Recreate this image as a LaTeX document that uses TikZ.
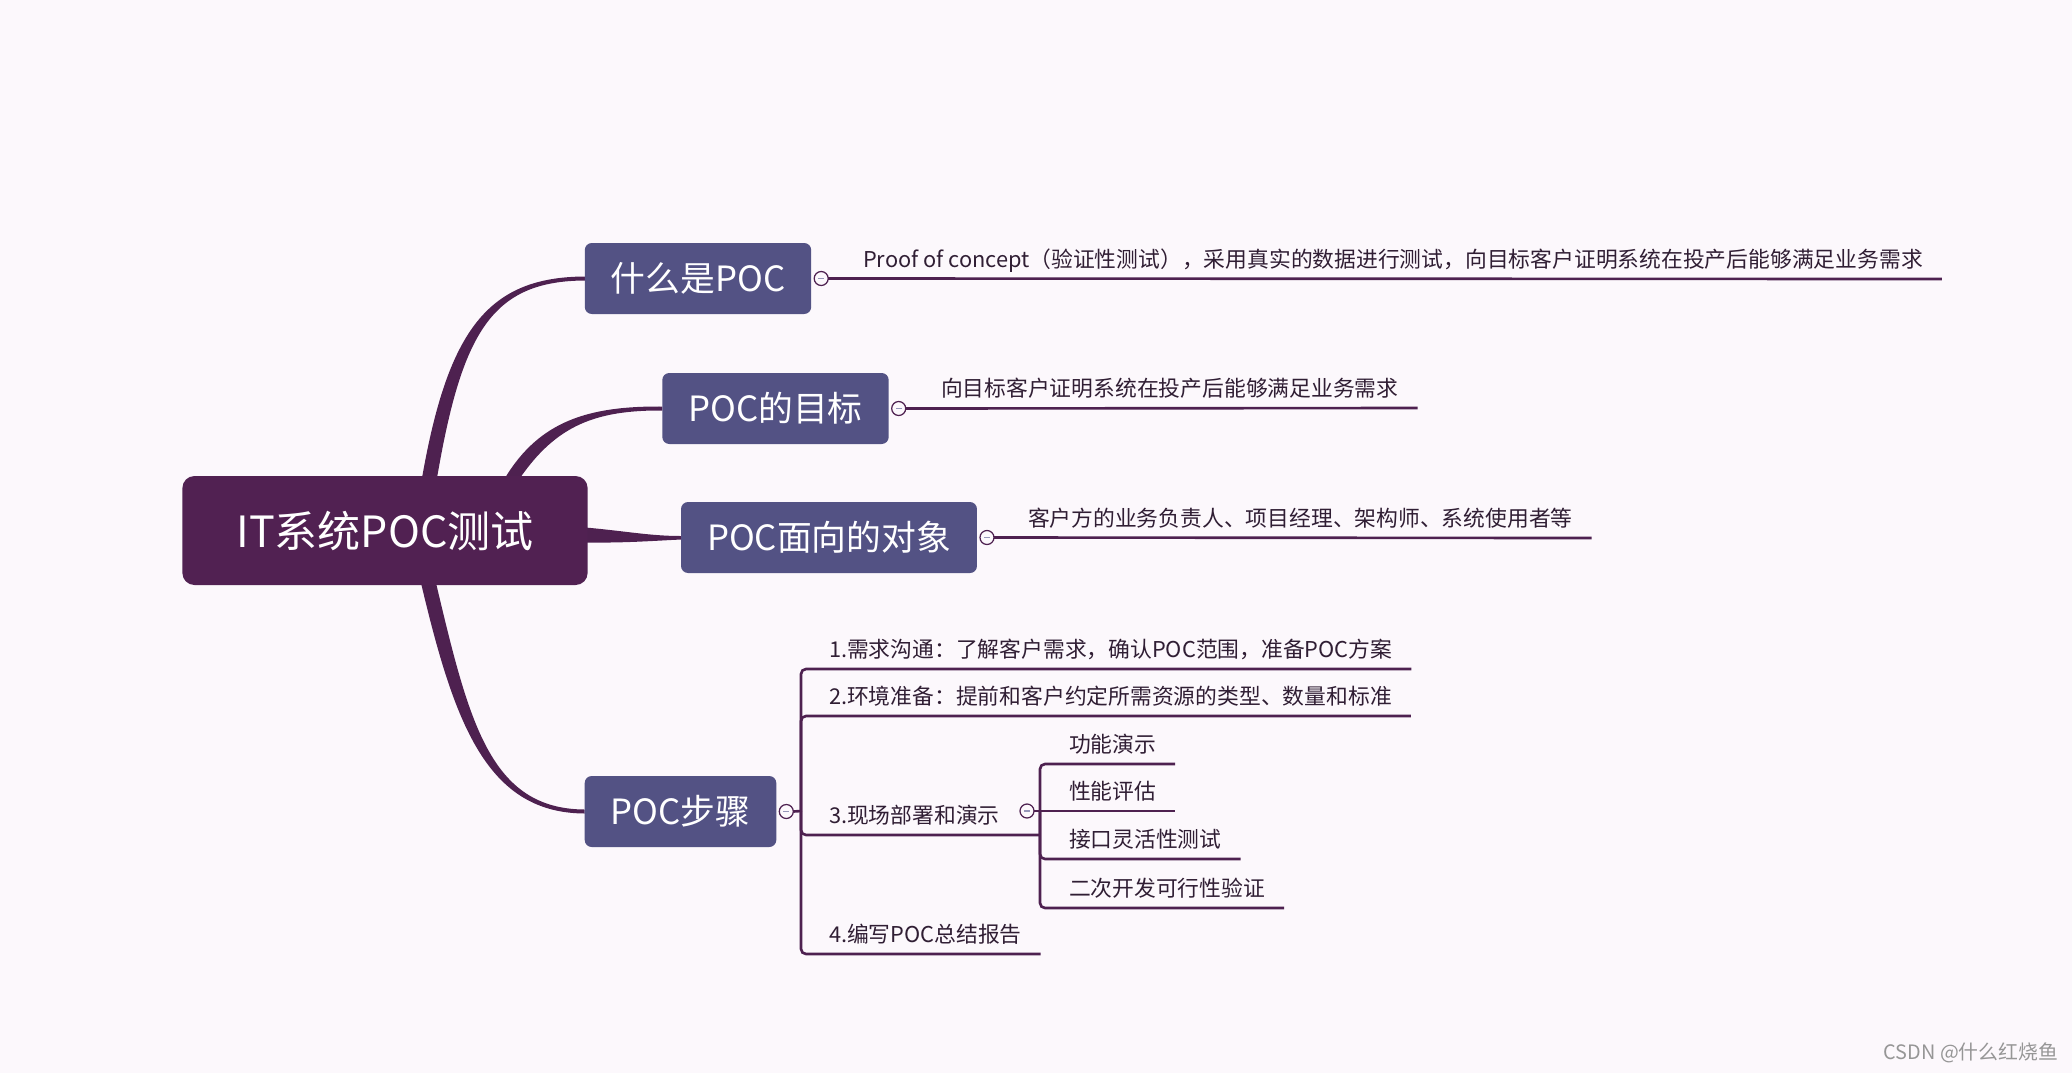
\documentclass[tikz,border=0pt]{standalone}
\usepackage{fontspec}
\setmainfont{Noto Sans CJK SC}
\usepackage{xcolor}
\usepackage{tikz}
\usetikzlibrary{positioning, calc, backgrounds}
\definecolor{paper}{RGB}{252,248,252}
\definecolor{rootFill}{RGB}{81,33,82}
\definecolor{topicFill}{RGB}{83,82,132}
\definecolor{branch}{RGB}{78,33,80}
\definecolor{textDark}{RGB}{48,30,52}
\definecolor{minusMark}{RGB}{150,150,185}
\definecolor{markGray}{RGB}{150,150,150}

\begin{document}
\begin{tikzpicture}[
    x=0.02cm, y=-0.02cm,
    every node/.style={outer sep=0pt},
    rootbox/.style={fill=rootFill, rounded corners=0.24cm, text=white,
        font=\fontsize{24.5}{30}\selectfont, inner xsep=1.08cm, minimum height=2.18cm},
    topic/.style={fill=topicFill, rounded corners=0.14cm, text=white,
        font=\fontsize{19.8}{24}\selectfont, inner xsep=0.52cm, minimum height=1.42cm},
    fold/.style={circle, draw=branch, fill=paper, line width=0.7pt,
        minimum size=0.28cm, inner sep=0pt,
        path picture={\draw[minusMark, line width=0.6pt]
            ([xshift=-1.6pt]path picture bounding box.center) --
            ([xshift=1.6pt]path picture bounding box.center);}},
    leaf/.style={anchor=south west, text=textDark, font=\fontsize{12.4}{15}\selectfont,
        inner xsep=0.38cm, inner ysep=0.18cm, text height=11pt, text depth=1.5pt},
    twig/.style={draw=branch, line width=1.5pt},
]
% Canvas in pixels: x in [0, 2072], y in [0, 1073], y grows downward
\useasboundingbox (0,0) rectangle (2072,1073);

% --- Central topic and main topics ---
\node[rootbox] (root) at (385, 530.5) {IT系统POC测试};

\node[topic] (what)   at (698, 278.5)   {什么是POC};
\node[topic] (goal)   at (775.5, 408.5) {POC的目标};
\node[topic] (target) at (829, 537.5)   {POC面向的对象};
\node[topic] (steps)  at (680.5, 811.5) {POC步骤};

% fold markers right of each topic
\node[fold, right=0.06cm of what]   (fWhat)   {};
\node[fold, right=0.06cm of goal]   (fGoal)   {};
\node[fold, right=0.06cm of target] (fTarget) {};
\node[fold, right=0.06cm of steps]  (fSteps)  {};

% --- Details of the first three topics ---
\node[leaf] (dWhat) at (844, 279)
    {Proof of concept（验证性测试），采用真实的数据进行测试，向目标客户证明系统在投产后能够满足业务需求};
\node[leaf] (dGoal) at (922, 408) {向目标客户证明系统在投产后能够满足业务需求};
\node[leaf] (dTarget) at (1009, 538) {客户方的业务负责人、项目经理、架构师、系统使用者等};

\draw[twig] (fWhat.east) -- (dWhat.south east);
\draw[twig] (fGoal.east) -- (dGoal.south east);
\draw[twig] (fTarget.east) -- (dTarget.south east);

% --- Steps: bracket with four items ---
\coordinate (jSteps) at (801, 811);
\node[leaf] (s1) at (810, 669) {1.需求沟通：了解客户需求，确认POC范围，准备POC方案};
\node[leaf] (s2) at (810, 716) {2.环境准备：提前和客户约定所需资源的类型、数量和标准};
\node[leaf] (s3) at (810, 835) {3.现场部署和演示};
\node[leaf] (s4) at (810, 954) {4.编写POC总结报告};

\draw[twig] (fSteps.east) -- (jSteps);
\draw[twig, rounded corners=0.1cm] (jSteps) |- (s1.south east);
\draw[twig, rounded corners=0.1cm] (jSteps) |- (s2.south east);
\draw[twig, rounded corners=0.1cm] (jSteps) |- (s4.south east);

% sub-bracket under step 3
\coordinate (jDemo) at (1040, 811);
\node[fold] (fDemo) at (1027, 811) {};
\draw[twig, rounded corners=0.1cm] (jSteps) |- (jDemo |- s3.south);

\node[leaf] (t1) at (1050, 764) {功能演示};
\node[leaf] (t2) at (1050, 811) {性能评估};
\node[leaf] (t3) at (1050, 859) {接口灵活性测试};
\node[leaf] (t4) at (1050, 908) {二次开发可行性验证};

\draw[twig] (fDemo.east) -- (jDemo);
\draw[twig, rounded corners=0.1cm] (jDemo) |- (t1.south east);
\draw[twig] (jDemo) -- (t2.south east);
\draw[twig, rounded corners=0.1cm] (jDemo) |- (t3.south east);
\draw[twig, rounded corners=0.1cm] (jDemo) |- (t4.south east);

% --- Watermark ---
\node[text=markGray, font=\fontsize{11.3}{14}\selectfont] (mark) at (1971, 1053)
    {CSDN @什么红烧鱼};

% --- Paper and tapered main branches (behind the boxes) ---
\begin{scope}[on background layer]
\fill[paper] (0,0) rectangle (2072,1073);

\fill[branch] ($(root.north)+(37,2)$)
    .. controls (448,330) and (488,277) .. ($(what.west)+(0,-2)$)
    -- ($(what.west)+(0,2)$)
    .. controls (492,281) and (462,332) .. ($(root.north)+(52,2)$) -- cycle;

\fill[branch] ($(root.north)+(120,2)$)
    .. controls (540,420) and (590,406) .. ($(goal.west)+(0,-2)$)
    -- ($(goal.west)+(0,2)$)
    .. controls (595,410) and (556,426) .. ($(root.north)+(135,2)$) -- cycle;

\fill[branch] ($(root.east)+(-2,-3)$)
    .. controls (625,531) and (650,536) .. ($(target.west)+(0,-1.5)$)
    -- ($(target.west)+(0,2)$)
    .. controls (650,541) and (625,543) .. ($(root.east)+(-2,12)$) -- cycle;

\fill[branch] ($(root.south)+(36,-2)$)
    .. controls (454,722) and (486,813) .. ($(steps.west)+(0,2)$)
    -- ($(steps.west)+(0,-2)$)
    .. controls (490,809) and (469,722) .. ($(root.south)+(51,-2)$) -- cycle;
\end{scope}

\end{tikzpicture}
\end{document}
